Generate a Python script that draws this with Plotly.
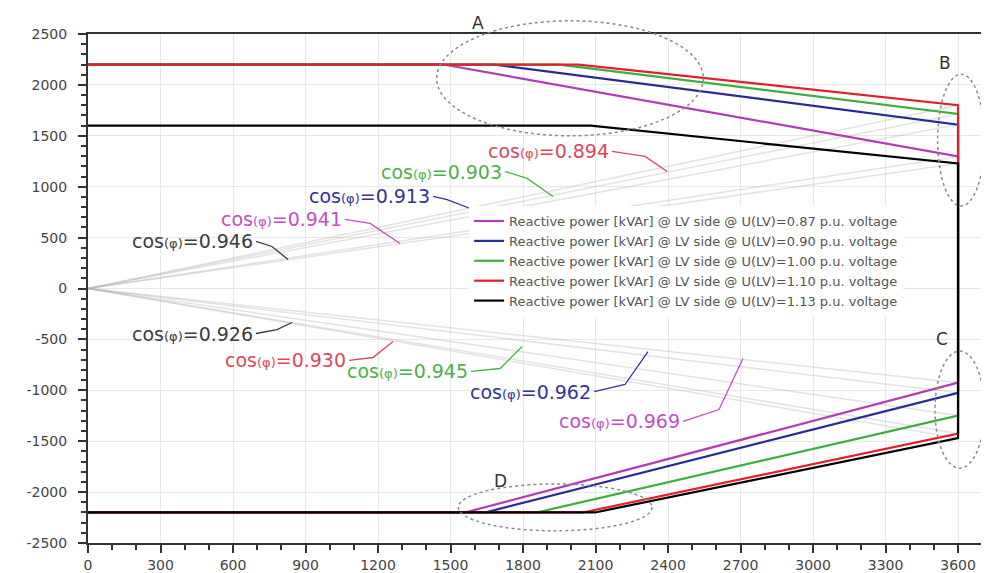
import plotly.graph_objects as go

# ---------------- data ----------------
P_END = 3600
voltage_labels = ["0.87", "0.90", "1.00", "1.10", "1.13"]
series_colors = ["#b23cb2", "#2a2a96", "#3fae3f", "#e0202e", "#000000"]
q_max_upper = [2200, 2200, 2200, 2200, 1600]
p_break_upper = [1470, 1680, 1950, 2030, 2080]
q_end_upper = [1297, 1610, 1715, 1800, 1228]
q_end_lower = [-925, -1025, -1248, -1425, -1470]
p_break_lower = [1560, 1643, 1857, 2048, 2098]
q_min_lower = [-2200, -2200, -2200, -2200, -2200]

# cos(phi) labels: text, colour, leader polyline (data units)
cos_labels = ["0.894", "0.903", "0.913", "0.941", "0.946",
              "0.926", "0.930", "0.945", "0.962", "0.969"]
cos_colors = ["#e0465a", "#4fb04a", "#33339a", "#c04fc0", "#3c3c3c",
              "#3c3c3c", "#e0465a", "#4fb04a", "#33339a", "#c04fc0"]
leader_x = [[2168, 2305, 2396], [1726, 1817, 1924], [1428, 1486, 1593],
            [1063, 1167, 1291], [695, 761, 828], [695, 782, 844],
            [1080, 1179, 1262], [1585, 1705, 1796], [2094, 2222, 2317],
            [2462, 2611, 2710]]
leader_y = [[1346, 1297, 1149], [1149, 1081, 904], [904, 874, 776],
            [678, 639, 442], [462, 413, 285], [-442, -403, -334],
            [-707, -678, -521], [-815, -786, -570], [-1012, -943, -619],
            [-1306, -1189, -688]]

x_tick_vals = list(range(0, 3601, 300))
y_tick_vals = list(range(-2500, 2501, 500))
y_tick_text = [str(v) for v in y_tick_vals]

# ---------------- figure ----------------
fig = go.Figure()

# faint constant cos(phi) lines from origin
for q in q_end_upper + q_end_lower:
    fig.add_trace(go.Scatter(x=[0, P_END], y=[0, q], mode="lines",
                             line=dict(color="rgba(175,175,175,0.35)", width=1.5),
                             showlegend=False, hoverinfo="skip"))

# leader lines
for lx, ly, c in zip(leader_x, leader_y, cos_colors):
    fig.add_trace(go.Scatter(x=lx, y=ly, mode="lines",
                             line=dict(color=c, width=1.3),
                             showlegend=False, hoverinfo="skip"))

# capability curves
for i in range(5):
    xs = [0, p_break_upper[i], P_END, P_END, p_break_lower[i], 0]
    ys = [q_max_upper[i], q_max_upper[i], q_end_upper[i], q_end_lower[i],
          q_min_lower[i], q_min_lower[i]]
    fig.add_trace(go.Scatter(
        x=xs, y=ys, mode="lines",
        line=dict(color=series_colors[i], width=2.2),
        name="Reactive power [kVAr] @ LV side @ U(LV)=%s p.u. voltage" % voltage_labels[i]))

# cos(phi) text annotations
for lab, c, lx, ly in zip(cos_labels, cos_colors, leader_x, leader_y):
    fig.add_annotation(
        x=lx[0], y=ly[0], xref="x", yref="y",
        text="cos<span style='font-size:13px'>(φ)</span>=" + lab,
        showarrow=False, xanchor="right", yanchor="middle", xshift=-1,
        font=dict(family="DejaVu Sans", size=19, color=c))

# dotted ellipses and letters
ellipses = [(0.387, 0.800, 0.683, 1.026), (0.943, 0.662, 0.995, 0.921),
            (0.940, 0.147, 0.995, 0.377), (0.411, 0.024, 0.626, 0.116)]
for (x0, y0, x1, y1) in ellipses:
    fig.add_shape(type="circle", xref="paper", yref="paper",
                  x0=x0, y0=y0, x1=x1, y1=y1,
                  line=dict(color="#8a8a8a", width=1.5, dash="dot"))
letters = [("A", 0.433, 1.022), ("B", 0.951, 0.943), ("C", 0.948, 0.401), ("D", 0.458, 0.122)]
for t, lx, ly in letters:
    fig.add_annotation(x=lx, y=ly, xref="paper", yref="paper", text=t,
                       showarrow=False, xanchor="center", yanchor="middle",
                       font=dict(family="DejaVu Sans", size=17, color="#333333"))

fig.update_layout(
    width=989, height=573,
    margin=dict(l=80, r=8, t=26, b=38),
    plot_bgcolor="white", paper_bgcolor="white",
    font=dict(family="DejaVu Sans", color="#444444"),
    legend=dict(x=0.423, y=0.662, xanchor="left", yanchor="top",
                bgcolor="white", borderwidth=0,
                font=dict(family="DejaVu Sans", size=13, color="#555555"),
                tracegroupgap=0),
    showlegend=True,
)
fig.update_xaxes(range=[0, 3728], tickvals=x_tick_vals, ticks="outside", ticklen=8,
                 tickwidth=2, tickcolor="#333333", automargin=False,
                 showline=True, linecolor="#333333", linewidth=2, mirror=True,
                 showgrid=True, gridcolor="#e8e8e8", gridwidth=1, zeroline=False,
                 tickfont=dict(family="DejaVu Sans", size=14, color="#444444"),
                 minor=dict(dtick=100, ticks="outside", ticklen=5, tickcolor="#333333",
                            showgrid=False))
fig.update_yaxes(range=[-2500, 2500], tickvals=y_tick_vals, ticktext=y_tick_text,
                 ticks="outside", ticklen=8, tickwidth=2, tickcolor="#333333",
                 automargin=False, ticklabelstandoff=8,
                 showline=True, linecolor="#333333", linewidth=2,
                 showgrid=True, gridcolor="#e8e8e8", gridwidth=1, zeroline=False,
                 tickfont=dict(family="DejaVu Sans", size=14, color="#444444"),
                 minor=dict(dtick=100, ticks="outside", ticklen=5, tickcolor="#333333",
                            showgrid=False))

fig.write_html("out.html")
